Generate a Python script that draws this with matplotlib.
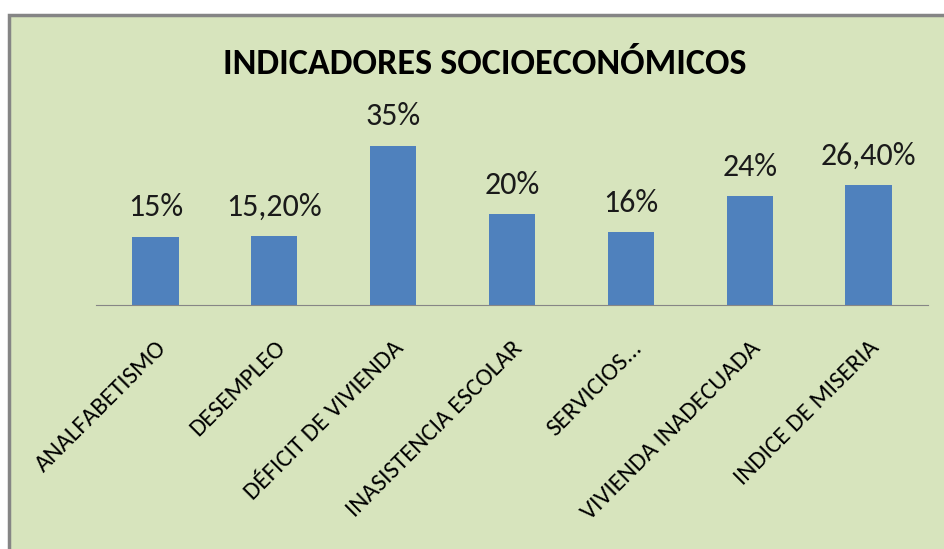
import matplotlib.pyplot as plt
from matplotlib.patches import Rectangle

categorias = ["ANALFABETISMO", "DESEMPLEO", "DÉFICIT DE VIVIENDA", "INASISTENCIA ESCOLAR",
              "SERVICIOS...", "VIVIENDA INADECUADA", "INDICE DE MISERIA"]
valores = [15, 15.2, 35, 20, 16, 24, 26.4]
etiquetas = ["15%", "15,20%", "35%", "20%", "16%", "24%", "26,40%"]

plt.rcParams['font.family'] = ['Carlito', 'DejaVu Sans']

fig = plt.figure(figsize=(9.45, 5.49), dpi=100)
fig.patch.set_facecolor("white")
fondo = Rectangle((9 / 945, -0.01), 1.0, 1 - 15 / 549 + 0.01, transform=fig.transFigure,
                  facecolor="#D7E4BD", edgecolor="#858585", linewidth=2.5, zorder=-5)
fig.patches.append(fondo)

ax = fig.add_axes([96 / 945, 1 - 305 / 549, (928 - 96) / 945, (305 - 123) / 549])
ax.set_facecolor("none")
ax.set_zorder(2)
x = range(len(categorias))
barras = ax.bar(x, valores, width=0.39, color="#4F81BD")
for b, t in zip(barras, etiquetas):
    ax.annotate(t, (b.get_x() + b.get_width() / 2, b.get_height()), xytext=(0, 11),
                textcoords="offset points", ha="center", va="bottom", fontsize=23, color="#1a1a1a")

ax.set_xlim(-0.5, len(categorias) - 0.5)
ax.set_ylim(0, 40)
ax.set_xticks(list(x))
ax.set_xticklabels(categorias, rotation=45, ha="right", rotation_mode="anchor", fontsize=18)
ax.tick_params(axis="x", length=0, pad=23)
ax.set_yticks([])
for s in ["top", "right", "left"]:
    ax.spines[s].set_visible(False)
ax.spines["bottom"].set_color("#868686")

fig.text(485 / 945, 1 - 64 / 549, "INDICADORES SOCIOECONÓMICOS", ha="center", va="center",
         fontsize=26, fontweight="bold")

plt.savefig("out.png", dpi=100)
